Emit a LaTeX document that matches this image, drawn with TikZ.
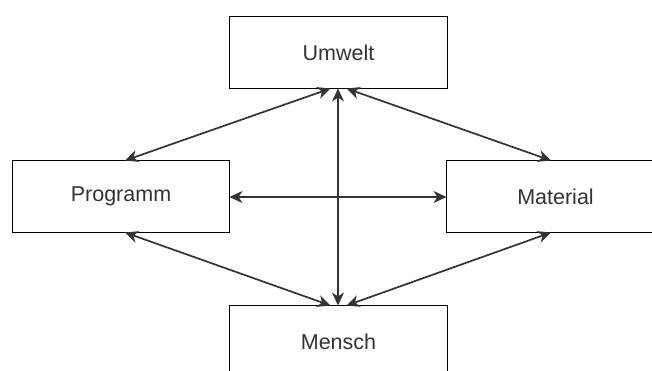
\documentclass[tikz,border=0pt]{standalone}
\usepackage{fontspec}
\setmainfont{Liberation Sans}
\usetikzlibrary{arrows.meta}
\definecolor{txt}{HTML}{333333}
\definecolor{ln}{HTML}{333333}
\begin{document}
\begin{tikzpicture}[x=1pt,y=-1pt,
  box/.style={draw=black,line width=1.5pt,fill=white,minimum width=218pt,minimum height=72pt,inner sep=0pt,
    font=\fontsize{21.5}{25}\selectfont,text=txt},
  conn/.style={draw=ln,line width=1.7pt,{Stealth[length=13pt,width=12pt,inset=4pt]}-{Stealth[length=13pt,width=12pt,inset=4pt]}}]
\useasboundingbox (0,0) rectangle (652,371);
\begin{scope}
\clip (0,0) rectangle (652,371);
\node[box] (u) at (338.5,52.5) {Umwelt};
\node[box,minimum width=217pt] (p) at (121,196.5) {Programm};
\node[box] (m) at (555.5,196.5) {Material};
\node[box] (h) at (338.5,341.5) {Mensch};
\coordinate (uL) at (330.5,88.5);
\coordinate (uR) at (346.5,88.5);
\coordinate (uC) at (338,88.5);
\coordinate (hC) at (338,305.5);
\coordinate (hL) at (330.5,305.5);
\coordinate (hR) at (346.5,305.5);
\coordinate (pT) at (125,160.5);
\coordinate (pB) at (125,232.5);
\coordinate (mT) at (551,160.5);
\coordinate (mB) at (551,232.5);
\coordinate (pE) at (229.5,197);
\coordinate (mW) at (446.5,197);
\draw[conn] (uC) -- (hC);
\draw[conn] (pE) -- (mW);
\draw[conn] (uL) -- (pT);
\draw[conn] (uR) -- (mT);
\draw[conn] (hL) -- (pB);
\draw[conn] (hR) -- (mB);
\end{scope}
\end{tikzpicture}
\end{document}
